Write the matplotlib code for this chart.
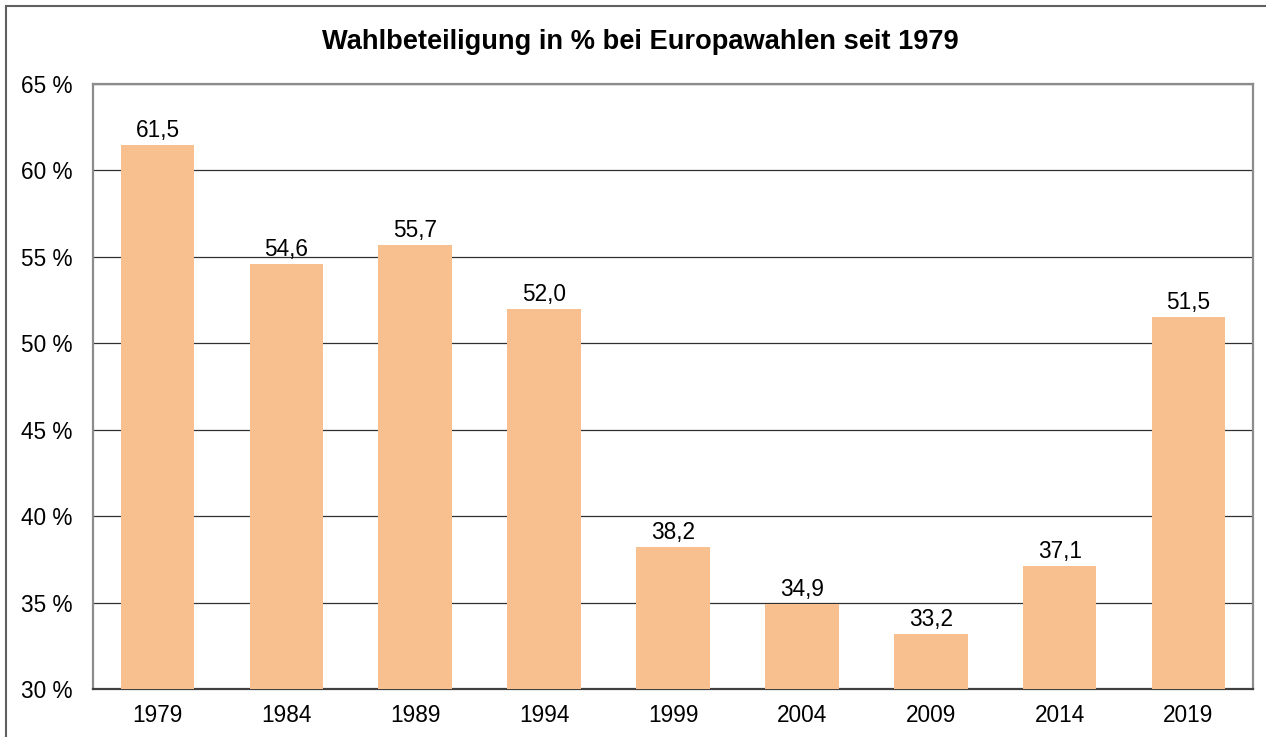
import matplotlib
matplotlib.use("Agg")
import matplotlib.pyplot as plt
from matplotlib.patches import Rectangle

jahre = ["1979", "1984", "1989", "1994", "1999", "2004", "2009", "2014", "2019"]
beteiligung = [61.5, 54.6, 55.7, 52.0, 38.2, 34.9, 33.2, 37.1, 51.5]
y_ticks = [30, 35, 40, 45, 50, 55, 60, 65]

plt.rcParams['font.family'] = ['Liberation Sans', 'DejaVu Sans']

fig = plt.figure(figsize=(12.66, 7.37), dpi=100)

# Rahmen um die ganze Grafik
fig.patches.append(Rectangle((6 / 1266, -0.1), 1.2, 1.1 - 6 / 737,
                             transform=fig.transFigure, fill=False,
                             edgecolor='#606060', linewidth=1.5))

ax = fig.add_axes([93 / 1266, 1 - 689 / 737, (1253 - 93) / 1266, (689 - 84) / 737])

pos = range(len(jahre))
ax.bar(pos, [v - 30 for v in beteiligung], bottom=30, width=0.57,
       color='#F9C08F', zorder=3)

# Werte über den Balken, mit Dezimalkomma
for x, v in zip(pos, beteiligung):
    ax.text(x, v + 0.17, f"{v:.1f}".replace('.', ','), ha='center', va='bottom',
            fontsize=16.3, color='black', zorder=4)

ax.set_xlim(-0.5, len(jahre) - 0.5)
ax.set_ylim(30, 65)
ax.set_yticks(y_ticks)
ax.set_yticklabels([f"{t} %" for t in y_ticks])
ax.set_xticks(list(pos))
ax.set_xticklabels(jahre)
ax.tick_params(length=0, labelsize=16.3, colors='black')
ax.tick_params(axis='y', pad=14.5)
ax.tick_params(axis='x', pad=11)

ax.yaxis.grid(True, color='#303030', linewidth=0.9, zorder=1)
for s in ['left', 'right', 'top']:
    ax.spines[s].set_color('#8c8c8c')
    ax.spines[s].set_linewidth(1.6)
ax.spines['bottom'].set_color('#404040')
ax.spines['bottom'].set_linewidth(1.6)

fig.text(0.506, 1 - 42 / 737, "Wahlbeteiligung in % bei Europawahlen seit 1979",
         ha='center', va='center', fontsize=19.6, fontweight='bold')

fig.savefig("out.png", dpi=100)
